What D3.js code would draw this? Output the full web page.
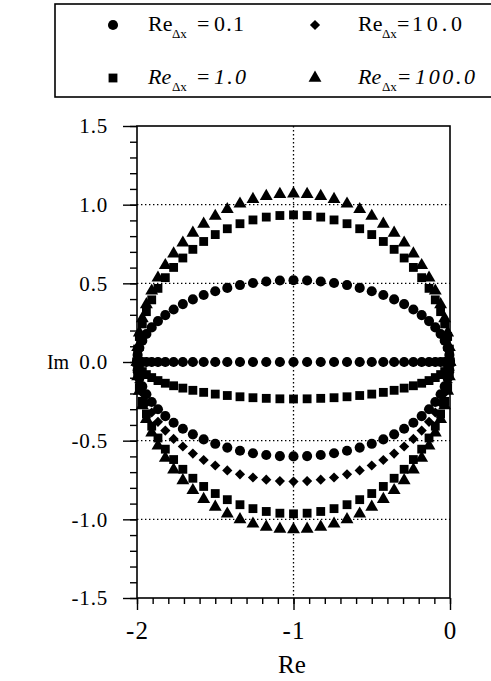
<!DOCTYPE html>
<html><head><meta charset="utf-8">
<script src="https://cdn.jsdelivr.net/npm/d3@7"></script>
<style>
html,body{margin:0;padding:0;background:#fff;}
svg{display:block;}
svg text{font-family:"Liberation Serif","Times New Roman",serif !important;fill:#000;}
</style></head><body>
<svg id="chart" width="491" height="681"></svg>
<script>
// Real parts of the eigenvalues (shared by every branch)
const reValues = [0, -0.004, -0.015, -0.034, -0.060, -0.094, -0.134, -0.181, -0.234, -0.293, -0.357, -0.426, -0.500, -0.577, -0.658, -0.741, -0.826, -0.913, -1.000, -1.087, -1.174, -1.259, -1.342, -1.423, -1.500, -1.574, -1.643, -1.707, -1.766, -1.819, -1.866, -1.906, -1.940, -1.966, -1.985, -1.996, -2.000];

// Imaginary parts, one list per branch
const imRe01Axis = [0,0,0,0,0,0,0,0,0,0,0,0,0,0,0,0,0,0,0,0,0,0,0,0,0,0,0,0,0,0,0,0,0,0,0,0,0];
const imRe01Upper = [0, 0.045, 0.090, 0.135, 0.178, 0.220, 0.260, 0.298, 0.334, 0.368, 0.398, 0.426, 0.450, 0.471, 0.489, 0.502, 0.512, 0.518, 0.520, 0.518, 0.512, 0.502, 0.489, 0.471, 0.450, 0.426, 0.398, 0.368, 0.334, 0.298, 0.260, 0.220, 0.178, 0.135, 0.090, 0.045, 0];
const imRe01Lower = [0, -0.052, -0.104, -0.155, -0.205, -0.254, -0.300, -0.344, -0.386, -0.424, -0.460, -0.492, -0.520, -0.544, -0.564, -0.580, -0.591, -0.598, -0.600, -0.598, -0.591, -0.580, -0.564, -0.544, -0.520, -0.492, -0.460, -0.424, -0.386, -0.344, -0.300, -0.254, -0.205, -0.155, -0.104, -0.052, 0];
const imRe10Axis = [0,0,0,0,0,0,0,0,0,0,0,0,0,0,0,0,0,0,0,0,0,0,0,0,0,0,0,0,0,0,0,0,0,0,0,0,0];
const imRe10Lower = [0, -0.066, -0.132, -0.197, -0.260, -0.321, -0.380, -0.436, -0.489, -0.537, -0.582, -0.623, -0.658, -0.689, -0.714, -0.734, -0.748, -0.757, -0.760, -0.757, -0.748, -0.734, -0.714, -0.689, -0.658, -0.623, -0.582, -0.537, -0.489, -0.436, -0.380, -0.321, -0.260, -0.197, -0.132, -0.066, 0];
const imRe1Upper = [0, 0.082, 0.162, 0.242, 0.320, 0.395, 0.468, 0.536, 0.601, 0.661, 0.716, 0.766, 0.810, 0.847, 0.879, 0.903, 0.921, 0.931, 0.935, 0.931, 0.921, 0.903, 0.879, 0.847, 0.810, 0.766, 0.716, 0.661, 0.601, 0.536, 0.468, 0.395, 0.320, 0.242, 0.162, 0.082, 0];
const imRe1LowerA = [0, -0.020, -0.041, -0.061, -0.080, -0.099, -0.118, -0.135, -0.151, -0.166, -0.180, -0.193, -0.204, -0.213, -0.221, -0.227, -0.231, -0.234, -0.235, -0.234, -0.231, -0.227, -0.221, -0.213, -0.204, -0.193, -0.180, -0.166, -0.151, -0.135, -0.118, -0.099, -0.080, -0.061, -0.041, -0.020, 0];
const imRe1LowerB = [0, -0.084, -0.168, -0.250, -0.330, -0.408, -0.483, -0.554, -0.620, -0.682, -0.739, -0.791, -0.836, -0.875, -0.907, -0.932, -0.950, -0.961, -0.965, -0.961, -0.950, -0.932, -0.907, -0.875, -0.836, -0.791, -0.739, -0.682, -0.620, -0.554, -0.483, -0.408, -0.330, -0.250, -0.168, -0.084, 0];
const imRe100Upper = [0, 0.093, 0.186, 0.277, 0.366, 0.452, 0.535, 0.614, 0.688, 0.757, 0.820, 0.877, 0.927, 0.970, 1.005, 1.034, 1.054, 1.066, 1.070, 1.066, 1.054, 1.034, 1.005, 0.970, 0.927, 0.877, 0.820, 0.757, 0.688, 0.614, 0.535, 0.452, 0.366, 0.277, 0.186, 0.093, 0];
const imRe100Lower = [0, -0.093, -0.185, -0.276, -0.364, -0.450, -0.533, -0.611, -0.685, -0.753, -0.816, -0.872, -0.922, -0.965, -1.001, -1.029, -1.049, -1.061, -1.065, -1.061, -1.049, -1.029, -1.001, -0.965, -0.922, -0.872, -0.816, -0.753, -0.685, -0.611, -0.533, -0.450, -0.364, -0.276, -0.185, -0.093, 0];

// Axis ticks and grid
const yTicks = [1.5, 1.0, 0.5, 0.0, -0.5, -1.0, -1.5];
const xTicks = [-2, -1, 0];
const gridY = [1.0, 0.5, -0.5, -1.0];
const gridX = [-1];

// Legend entries
const legendValues = ["0.1", "10.0", "1.0", "100.0"];
const legendMarkers = ["circle", "diamond", "square", "triangle"];

const svg = d3.select('#chart');
const x = d3.scaleLinear().domain([-2, 0]).range([137, 450]);
const y = d3.scaleLinear().domain([-1.5, 1.5]).range([598, 126]);

const symbolPath = {
  circle: d3.symbol().type(d3.symbolCircle).size(80)(),
  square: d3.symbol().type(d3.symbolSquare).size(78)(),
  triangle: d3.symbol().type(d3.symbolTriangle).size(72)(),
  diamond: d3.symbol().type(d3.symbolSquare).size(52)()
};
const symbolRotate = {circle: 0, square: 0, triangle: 0, diamond: 45};

// Dotted grid
const grid = svg.append('g').attr('stroke', '#000').attr('stroke-width', 1.3).attr('stroke-dasharray', '1.4,2.6');
grid.selectAll('line.gy').data(gridY).join('line')
  .attr('x1', x(-2)).attr('x2', x(0)).attr('y1', d => y(d)).attr('y2', d => y(d));
grid.selectAll('line.gx').data(gridX).join('line')
  .attr('x1', d => x(d)).attr('x2', d => x(d)).attr('y1', y(1.5)).attr('y2', y(-1.5));

// Axes
const serif = '"Liberation Serif", "Times New Roman", serif';
const fmt = d => d.toFixed(1);
const yMinor = d3.range(-15, 16).map(i => i / 10);
const xMinor = d3.range(-20, 1).map(i => i / 10);

const gyMinor = svg.append('g').attr('transform', `translate(${x(-2)},0)`)
  .call(d3.axisLeft(y).tickValues(yMinor).tickSize(7).tickFormat(''));
const gy = svg.append('g').attr('transform', `translate(${x(-2)},0)`)
  .call(d3.axisLeft(y).tickValues(yTicks).tickSize(14).tickPadding(15).tickFormat(fmt));
gy.attr('font-family', serif);
gy.selectAll('text').attr('font-size', 21).attr('letter-spacing', 0.8).style('font-family', serif);

const gxMinor = svg.append('g').attr('transform', `translate(0,${y(-1.5)})`)
  .call(d3.axisBottom(x).tickValues(xMinor).tickSize(6).tickFormat(''));
const gx = svg.append('g').attr('transform', `translate(0,${y(-1.5)})`)
  .call(d3.axisBottom(x).tickValues(xTicks).tickSize(12).tickPadding(11).tickFormat(d => String(d)));
gx.attr('font-family', serif);
gx.selectAll('text').attr('font-size', 25).attr('letter-spacing', 1).style('font-family', serif);

[gyMinor, gy, gxMinor, gx].forEach(g => {
  g.select('.domain').remove();
  g.selectAll('line').attr('stroke', '#000').attr('stroke-width', 1.4);
});

// Frame
svg.append('rect')
  .attr('x', x(-2)).attr('y', y(1.5))
  .attr('width', x(0) - x(-2)).attr('height', y(-1.5) - y(1.5))
  .attr('fill', 'none').attr('stroke', '#000').attr('stroke-width', 1.6);

// Axis titles
svg.append('text').attr('x', 58).attr('y', 369).attr('text-anchor', 'middle')
  .attr('font-size', 20).text('Im');
svg.append('text').attr('x', 292).attr('y', 673).attr('text-anchor', 'middle')
  .attr('font-size', 25).text('Re');

// Eigenvalue branches
const branches = [
  {marker: 'circle', im: imRe01Axis},
  {marker: 'diamond', im: imRe10Axis},
  {marker: 'square', im: imRe1LowerA},
  {marker: 'circle', im: imRe01Upper},
  {marker: 'circle', im: imRe01Lower},
  {marker: 'diamond', im: imRe10Lower},
  {marker: 'square', im: imRe1Upper},
  {marker: 'square', im: imRe1LowerB},
  {marker: 'triangle', im: imRe100Upper},
  {marker: 'triangle', im: imRe100Lower}
];

const marks = svg.append('g');
branches.forEach(b => {
  marks.append('g').selectAll('path')
    .data(reValues.map((re, i) => ({re, im: b.im[i]})))
    .join('path')
    .attr('d', symbolPath[b.marker])
    .attr('transform', d => `translate(${x(d.re)},${y(d.im)}) rotate(${symbolRotate[b.marker]})`)
    .attr('fill', '#000');
});

// Legend
svg.append('rect').attr('x', 55).attr('y', 4).attr('width', 445).attr('height', 93)
  .attr('fill', 'none').attr('stroke', '#000').attr('stroke-width', 1.6);

const legendPos = [
  {mx: 113, tx: 148, eq: 197, vx: 214, base: 31, italic: false, vlen: 30},
  {mx: 315, tx: 358, eq: 397, vx: 412, base: 31, italic: false, vlen: 50},
  {mx: 113, tx: 148, eq: 197, vx: 214, base: 84, italic: true, vlen: 32},
  {mx: 315, tx: 358, eq: 398, vx: 415, base: 84, italic: true, vlen: 60}
];
const legend = svg.append('g');
legendValues.forEach((v, i) => {
  const p = legendPos[i];
  const m = legendMarkers[i];
  legend.append('path').attr('d', symbolPath[m])
    .attr('transform', `translate(${p.mx},${p.base - 6}) rotate(${symbolRotate[m]})`)
    .attr('fill', '#000');
  legend.append('text').attr('x', p.tx).attr('y', p.base).attr('font-size', 22)
    .attr('font-style', p.italic ? 'italic' : 'normal').text('Re');
  legend.append('text').attr('x', p.tx + 24).attr('y', p.base + 7).attr('font-size', 13)
    .text('Δx');
  legend.append('text').attr('x', p.eq).attr('y', p.base).attr('font-size', 22).text('=');
  legend.append('text').attr('x', p.vx).attr('y', p.base).attr('font-size', 22)
    .attr('font-style', p.italic ? 'italic' : 'normal')
    .attr('textLength', p.vlen).attr('lengthAdjust', 'spacing').text(v);
});
</script>
</body></html>
